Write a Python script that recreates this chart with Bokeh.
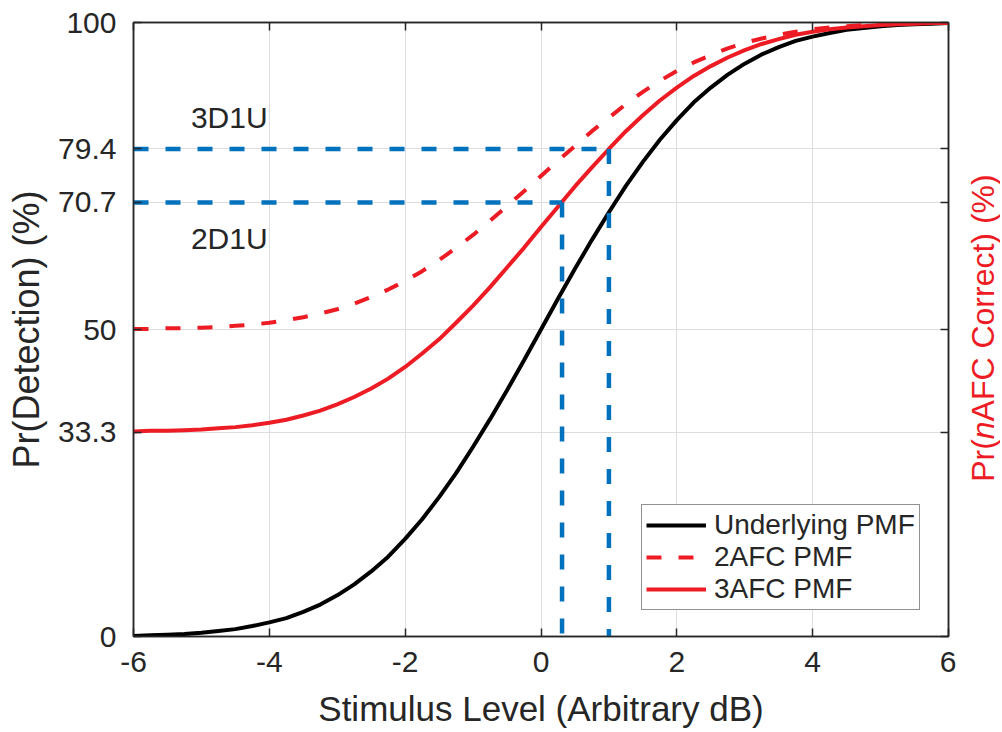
import math
from bokeh.plotting import figure
from bokeh.layouts import row
from bokeh.models import (Range1d, LinearAxis, FixedTicker, Label, Legend,
                          LegendItem, ColumnDataSource)
from bokeh.embed import file_html
from bokeh.resources import INLINE
from bokeh.core.properties import value

# ---------------- data ----------------
stimulus_db = [-6.0, -5.75, -5.5, -5.25, -5.0, -4.75, -4.5, -4.25, -4.0, -3.75,
               -3.5, -3.25, -3.0, -2.75, -2.5, -2.25, -2.0, -1.75, -1.5, -1.25,
               -1.0, -0.75, -0.5, -0.25, 0.0, 0.25, 0.5, 0.75, 1.0, 1.25,
               1.5, 1.75, 2.0, 2.25, 2.5, 2.75, 3.0, 3.25, 3.5, 3.75,
               4.0, 4.25, 4.5, 4.75, 5.0, 5.25, 5.5, 5.75, 6.0]

underlying_pmf = [0.1, 0.2, 0.3, 0.4, 0.6, 0.9, 1.2, 1.7, 2.3, 3.0,
                  4.0, 5.2, 6.7, 8.5, 10.6, 13.0, 15.9, 19.1, 22.7, 26.6,
                  30.9, 35.4, 40.1, 45.0, 50.0, 55.0, 59.9, 64.6, 69.1, 73.4,
                  77.3, 80.9, 84.1, 87.0, 89.4, 91.5, 93.3, 94.8, 96.0, 97.0,
                  97.7, 98.3, 98.8, 99.1, 99.4, 99.6, 99.7, 99.8, 99.9]

afc2_pmf = [50.1, 50.1, 50.2, 50.2, 50.3, 50.4, 50.6, 50.8, 51.1, 51.5,
            52.0, 52.6, 53.3, 54.2, 55.3, 56.5, 57.9, 59.5, 61.3, 63.3,
            65.4, 67.7, 70.1, 72.5, 75.0, 77.5, 79.9, 82.3, 84.5, 86.7,
            88.7, 90.5, 92.1, 93.5, 94.7, 95.8, 96.7, 97.4, 98.0, 98.5,
            98.9, 99.2, 99.4, 99.6, 99.7, 99.8, 99.9, 99.9, 100.0]

afc3_pmf = [33.4, 33.5, 33.5, 33.6, 33.7, 33.9, 34.1, 34.4, 34.8, 35.3,
            36.0, 36.8, 37.8, 39.0, 40.4, 42.0, 43.9, 46.1, 48.4, 51.1,
            53.9, 56.9, 60.1, 63.3, 66.7, 70.0, 73.3, 76.4, 79.4, 82.3,
            84.9, 87.3, 89.4, 91.3, 92.9, 94.3, 95.5, 96.5, 97.3, 98.0,
            98.5, 98.9, 99.2, 99.4, 99.6, 99.7, 99.8, 99.9, 99.9]

threshold_names = ["2D1U", "3D1U"]
threshold_levels = [70.7, 79.4]
threshold_stimuli = [0.31, 1.0]

x_ticks = [-6, -4, -2, 0, 2, 4, 6]
x_tick_labels = ["-6", "-4", "-2", "0", "2", "4", "6"]
y_ticks = [0, 33.3, 50, 70.7, 79.4, 100]
y_tick_labels = ["0", "33.3", "50", "70.7", "79.4", "100"]

series_names = ["Underlying PMF", "2AFC PMF", "3AFC PMF"]

# ---------------- styling ----------------
FONT = "Liberation Sans"
DARK = "#262626"
RED = "#ED1C24"
BLUE = "#0072BD"
GRID = "#DEDEDE"
H = 730
TOP = 22
BOTTOM = 93

p = figure(width=956, height=H, x_range=Range1d(-6, 6), y_range=Range1d(0, 100),
           output_backend="svg", toolbar_location=None,
           min_border_left=133, min_border_right=8, min_border_top=TOP,
           min_border_bottom=BOTTOM,
           x_axis_label="Stimulus Level (Arbitrary dB)",
           y_axis_label="Pr(Detection) (%)")
p.background_fill_color = "white"
p.border_fill_color = "white"
p.outline_line_color = DARK
p.outline_line_width = 1.5

for ax in (p.xaxis[0], p.yaxis[0]):
    ax.major_label_text_font = FONT
    ax.major_label_text_font_size = "30px"
    ax.major_label_text_color = DARK
    ax.axis_label_text_font = FONT
    ax.axis_label_text_font_style = "normal"
    ax.axis_label_text_color = DARK
    ax.major_tick_in = 8
    ax.major_tick_out = 0
    ax.minor_tick_in = 0
    ax.minor_tick_out = 0
    ax.axis_line_color = DARK
    ax.axis_line_width = 1.5
    ax.major_tick_line_color = DARK
    ax.major_tick_line_width = 1.5

p.xaxis.ticker = FixedTicker(ticks=x_ticks)
p.xaxis.major_label_overrides = {t: s for t, s in zip(x_ticks, x_tick_labels)}
p.xaxis.major_label_standoff = 15
p.xaxis.axis_label_standoff = 14
p.xaxis.axis_label_text_font_size = "35px"

p.yaxis.ticker = FixedTicker(ticks=y_ticks)
p.yaxis.major_label_overrides = {t: s for t, s in zip(y_ticks, y_tick_labels)}
p.yaxis.major_label_standoff = 17
p.yaxis.axis_label_standoff = 8
p.yaxis.axis_label_text_font_size = "36px"

# right and top axes: ticks only
right_axis = LinearAxis(ticker=FixedTicker(ticks=y_ticks),
                        major_label_overrides={t: "" for t in y_ticks})
top_axis = LinearAxis(ticker=FixedTicker(ticks=x_ticks),
                      major_label_overrides={t: "" for t in x_ticks})
for ax in (right_axis, top_axis):
    ax.major_tick_in = 8
    ax.major_tick_out = 0
    ax.minor_tick_in = 0
    ax.minor_tick_out = 0
    ax.axis_line_color = DARK
    ax.axis_line_width = 1.5
    ax.major_tick_line_color = DARK
    ax.major_tick_line_width = 1.5
    ax.major_label_text_font_size = "1px"
    ax.major_label_standoff = 0
p.add_layout(right_axis, "right")
p.add_layout(top_axis, "above")

p.xgrid.ticker = FixedTicker(ticks=x_ticks)
p.ygrid.ticker = FixedTicker(ticks=y_ticks)
for g in (p.xgrid[0], p.ygrid[0]):
    g.grid_line_color = GRID
    g.grid_line_width = 1

# ---------------- curves ----------------
src = ColumnDataSource(dict(x=stimulus_db, u=underlying_pmf, a2=afc2_pmf, a3=afc3_pmf))
r_u = p.line("x", "u", source=src, line_color="black", line_width=4)
r_2 = p.line("x", "a2", source=src, line_color=RED, line_width=4, line_dash="15 17")
r_3 = p.line("x", "a3", source=src, line_color=RED, line_width=4)

# ---------------- thresholds ----------------
th = ColumnDataSource(dict(level=threshold_levels, stim=threshold_stimuli))
p.segment(x0=-6, y0="level", x1="stim", y1="level", source=th,
          line_color=BLUE, line_width=4.5, line_dash="15 17")
p.segment(x0="stim", y0="level", x1="stim", y1=0, source=th,
          line_color=BLUE, line_width=4.5, line_dash="15 17")

p.text(x=[-4.59, -4.59], y=[64.9, 84.55], text=threshold_names,
       text_font=value(FONT), text_font_size="30px", text_color=DARK,
       text_align="center", text_baseline="middle")

# ---------------- legend ----------------
legend = Legend(items=[LegendItem(label=series_names[0], renderers=[r_u]),
                       LegendItem(label=series_names[1], renderers=[r_2]),
                       LegendItem(label=series_names[2], renderers=[r_3])],
                location=(508, 26))
legend.label_text_font = FONT
legend.label_text_font_size = "28px"
legend.label_text_color = DARK
legend.glyph_width = 60
legend.glyph_height = 28
legend.label_height = 28
legend.label_standoff = 8
legend.padding = 4
legend.spacing = 0
legend.margin = 0
legend.border_line_color = DARK
legend.border_line_width = 1.5
legend.background_fill_color = "white"
legend.background_fill_alpha = 1.0
p.add_layout(legend)

# ---------------- right axis label (with italic n), in a side strip ----------------
# The strip uses the same vertical scale as the main plot (0-100 over the frame).
SIDE_W = 44
side = figure(width=SIDE_W, height=H, x_range=Range1d(0, SIDE_W), y_range=Range1d(0, 100),
              output_backend="svg", toolbar_location=None,
              min_border=0, min_border_left=0, min_border_right=0,
              min_border_top=TOP, min_border_bottom=BOTTOM,
              x_axis_location=None, y_axis_location=None)
side.outline_line_color = None
side.grid.visible = False
side.background_fill_color = "white"
side.border_fill_color = "white"

fs = 32
px_per_unit = (H - TOP - BOTTOM) / 100.0
lx = 8
ly = 25.2
side.add_layout(Label(x=lx, y=ly, text="Pr(", angle=math.pi / 2,
                      text_font=FONT, text_font_size=f"{fs}px", text_color=RED,
                      text_align="left", text_baseline="top"))
side.add_layout(Label(x=lx, y=ly + 1.333 * fs / px_per_unit, text="n", angle=math.pi / 2,
                      text_font=FONT, text_font_size=f"{fs}px", text_color=RED,
                      text_font_style="italic",
                      text_align="left", text_baseline="top"))
side.add_layout(Label(x=lx, y=ly + (1.333 + 0.556) * fs / px_per_unit,
                      text="AFC Correct) (%)", angle=math.pi / 2,
                      text_font=FONT, text_font_size=f"{fs}px", text_color=RED,
                      text_align="left", text_baseline="top"))

layout = row(p, side, spacing=0)
html = file_html(layout, INLINE, title="Psychometric functions")
open("out.html", "w").write(html)
